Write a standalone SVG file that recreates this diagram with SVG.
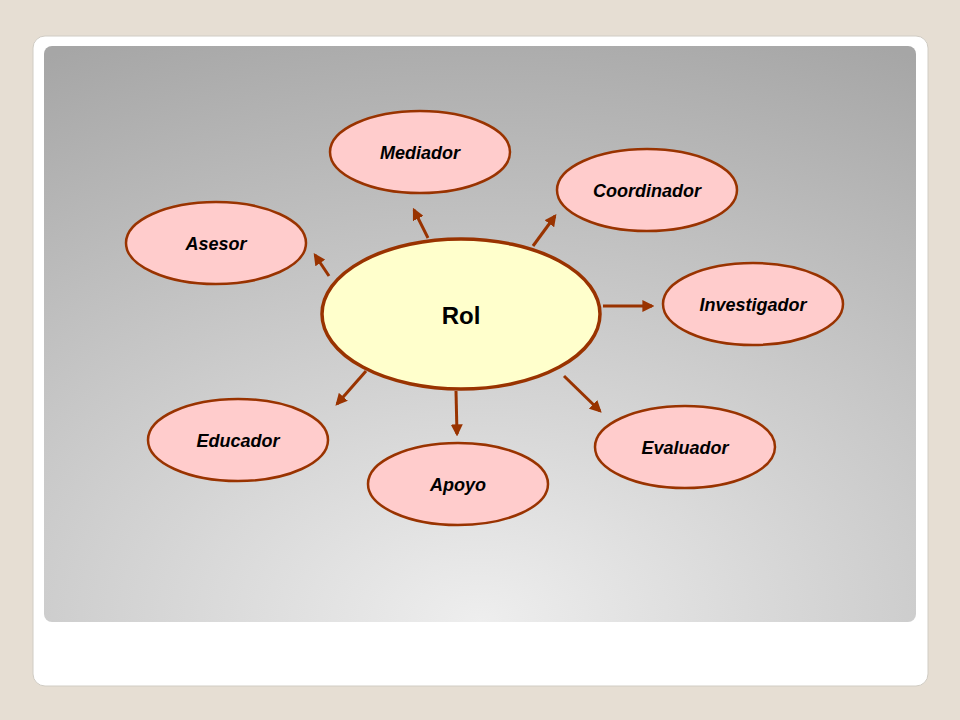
<svg xmlns="http://www.w3.org/2000/svg" width="960" height="720" viewBox="0 0 960 720">
<defs>
<radialGradient id="bg" cx="0.5" cy="1" r="1.1" fx="0.5" fy="1">
<stop offset="0" stop-color="#eeeeee"/>
<stop offset="1" stop-color="#a6a6a6"/>
</radialGradient>
<marker id="ah" viewBox="0 0 10 10" refX="8" refY="5" markerWidth="4" markerHeight="4" orient="auto" markerUnits="strokeWidth">
<path d="M0,0 L10,5 L0,10 z" fill="#993300"/>
</marker>
</defs>
<style>
.n{fill:#ffcccc;stroke:#993300;stroke-width:2.5}
.t{font-family:"Liberation Sans",Arial,sans-serif;font-weight:bold;font-style:italic;font-size:18px;text-anchor:middle;fill:#000}
.c line{stroke:#993300;stroke-width:3;marker-end:url(#ah)}
</style>
<rect width="960" height="720" fill="#e6ded3"/>
<rect x="33" y="36" width="895" height="650" rx="12" fill="#ffffff" stroke="#d0ccc4"/>
<rect x="44" y="46" width="872" height="576" rx="8" fill="url(#bg)"/>
<g class="c" id="connectors">
<line x1="428" y1="238" x2="414" y2="210"/>
<line x1="533" y1="246" x2="555" y2="216"/>
<line x1="329" y1="276" x2="315" y2="255"/>
<line x1="603" y1="306" x2="652" y2="306"/>
<line x1="564" y1="376" x2="600" y2="411"/>
<line x1="456" y1="391" x2="457" y2="434"/>
<line x1="366" y1="371" x2="337" y2="404"/>
</g>
<g id="rol"><ellipse cx="461" cy="314" rx="139" ry="75" fill="#ffffcc" stroke="#993300" stroke-width="3.5"/>
<text x="461" y="324" font-family="Liberation Sans,Arial,sans-serif" font-weight="bold" font-size="24" text-anchor="middle">Rol</text></g>
<g id="mediador"><ellipse class="n" cx="420" cy="152" rx="90" ry="41"/><text class="t" x="420" y="159">Mediador</text></g>
<g id="coordinador"><ellipse class="n" cx="647" cy="190" rx="90" ry="41"/><text class="t" x="647" y="197">Coordinador</text></g>
<g id="asesor"><ellipse class="n" cx="216" cy="243" rx="90" ry="41"/><text class="t" x="216" y="250">Asesor</text></g>
<g id="investigador"><ellipse class="n" cx="753" cy="304" rx="90" ry="41"/><text class="t" x="753" y="311">Investigador</text></g>
<g id="evaluador"><ellipse class="n" cx="685" cy="447" rx="90" ry="41"/><text class="t" x="685" y="454">Evaluador</text></g>
<g id="apoyo"><ellipse class="n" cx="458" cy="484" rx="90" ry="41"/><text class="t" x="458" y="491">Apoyo</text></g>
<g id="educador"><ellipse class="n" cx="238" cy="440" rx="90" ry="41"/><text class="t" x="238" y="447">Educador</text></g>
</svg>
